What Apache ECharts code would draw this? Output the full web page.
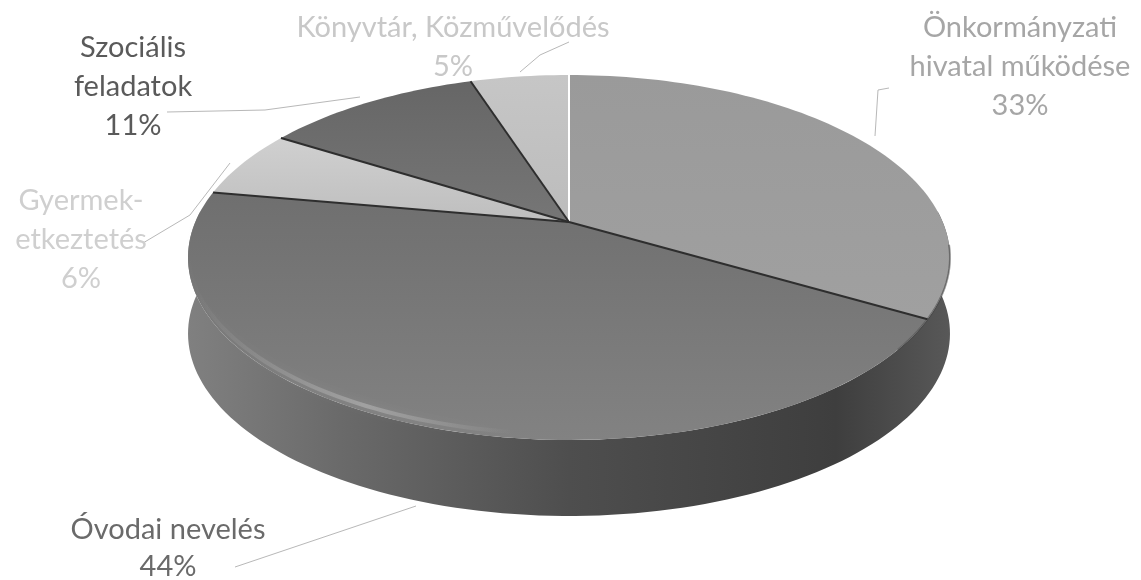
<!DOCTYPE html>
<html lang="hu">
<head>
    <meta charset="UTF-8">
    <title>Kiadások megoszlása</title>
    <style>
        html, body { margin: 0; padding: 0; background: #fff; }
        #main { width: 1141px; height: 580px; }
    </style>
</head>
<body>
<div id="main"></div>
<script src="https://cdn.jsdelivr.net/npm/echarts@6/dist/echarts.min.js"></script>
<script>
    // order is clockwise from 12 o'clock
    var categories = ['Önkormányzati\nhivatal működése', 'Óvodai nevelés', 'Gyermek-\netkeztetés', 'Szociális\nfeladatok', 'Könyvtár, Közművelődés'];
    var percents = [33, 44, 6, 11, 5];

    var sliceColors = [['#9a9a9a', '#a0a0a0'], ['#6f6f6f', '#828282'], ['#d0d0d0', '#bebebe'], ['#666666', '#767676'], ['#c6c6c6', '#bcbcbc']];
    var textColors = ['#a6a6a6', '#6a6a6a', '#cfcfcf', '#5a5a5a', '#c8c8c8'];
    var labelAnchors = [[1020, 8], [168, 511], [81, 181], [133, 28], [453, 8]];
    var leaders = [
        [[889, 88], [878, 90], [875, 136]],
        [[235, 567], [416, 506]],
        [[143, 243], [190, 215], [230, 163]],
        [[167, 112], [265, 110], [360, 97]],
        [[520, 72], [540, 55], [569, 42]]
    ];

    var total = percents.reduce(function (a, b) { return a + b; }, 0);
    var cum = [0];
    percents.forEach(function (p, i) { cum.push(cum[i] + p / total); });

    // tilted disc: a unit circle seen in perspective
    var CX = 569, CY = 222, AX = 373.7, EY = 132.4, H = -0.1945;
    function rim(share, r, dy) {
        var t = share * Math.PI * 2;
        var u = r * Math.sin(t), v = -r * Math.cos(t);
        var d = 1 + H * v;
        return [CX + AX * u / d, (CY + EY * v) / d + (dy || 0)];
    }
    function arc(from, to, dy) {
        var pts = [], n = Math.max(2, Math.ceil(Math.abs(to - from) * 240));
        for (var i = 0; i <= n; i++) pts.push(rim(from + (to - from) * i / n, 1, dy));
        return pts;
    }
    function bevel(from, to, dy, width, blur, stops) {
        return {
            type: 'polyline',
            shape: { points: arc(from, to, dy) },
            style: {
                fill: 'none',
                lineWidth: width,
                shadowBlur: blur,
                shadowColor: 'rgba(170,170,170,0.5)',
                stroke: new echarts.graphic.LinearGradient(0, 0, 1, 0, stops)
            }
        };
    }

    var DEPTH = 76;
    var myChart = echarts.init(document.getElementById('main'));
    myChart.setOption({
        backgroundColor: '#fff',
        animation: false,
        series: [
            {
                // side wall of the disc
                type: 'custom',
                coordinateSystem: 'none',
                silent: true,
                z: 1,
                data: [0],
                renderItem: function () {
                    var pts = arc(0.24, 0.76, 0).concat(arc(0.76, 0.24, DEPTH));
                    return {
                        type: 'polygon',
                        shape: { points: pts },
                        style: {
                            fill: new echarts.graphic.LinearGradient(0, 0, 1, 0, [
                                { offset: 0, color: '#808080' },
                                { offset: 0.2, color: '#6a6a6a' },
                                { offset: 0.5, color: '#4e4e4e' },
                                { offset: 0.85, color: '#3e3e3e' },
                                { offset: 1, color: '#585858' }
                            ])
                        }
                    };
                }
            },
            {
                // top face slices
                type: 'custom',
                coordinateSystem: 'none',
                silent: true,
                z: 2,
                data: percents,
                renderItem: function (params) {
                    var i = params.dataIndex;
                    var pts = [rim(0, 0)].concat(arc(cum[i], cum[i + 1]));
                    return {
                        type: 'polygon',
                        shape: { points: pts },
                        style: {
                            fill: new echarts.graphic.LinearGradient(0, 0, 0, 1, [
                                { offset: 0, color: sliceColors[i][0] },
                                { offset: 1, color: sliceColors[i][1] }
                            ])
                        }
                    };
                }
            },
            {
                // soft rim shading, light at the front left and dark on the right
                type: 'custom',
                coordinateSystem: 'none',
                silent: true,
                z: 3,
                data: [0],
                renderItem: function () {
                    return {
                        type: 'group',
                        children: [
                            bevel(0.52, 0.74, -6, 4, 8, [
                                { offset: 0, color: 'rgba(190,190,190,0)' },
                                { offset: 0.55, color: 'rgba(190,190,190,0.5)' },
                                { offset: 1, color: 'rgba(190,190,190,0)' }
                            ]),
                            bevel(0.27, 0.36, 0, 2, 0, [
                                { offset: 0, color: 'rgba(60,60,60,0.35)' },
                                { offset: 0.75, color: 'rgba(60,60,60,0.5)' },
                                { offset: 1, color: 'rgba(60,60,60,0.5)' }
                            ])
                        ]
                    };
                }
            },
            {
                // slice borders, the one at 12 o'clock is white
                type: 'custom',
                coordinateSystem: 'none',
                silent: true,
                z: 4,
                data: percents,
                renderItem: function (params) {
                    var i = params.dataIndex;
                    var end = rim(cum[i], 1);
                    return {
                        type: 'line',
                        shape: { x1: CX, y1: CY, x2: end[0], y2: end[1] },
                        style: { stroke: i === 0 ? '#fff' : '#2e2e2e', lineWidth: 2 }
                    };
                }
            },
            {
                // labels and leader lines
                type: 'custom',
                coordinateSystem: 'none',
                silent: true,
                z: 5,
                data: percents,
                renderItem: function (params) {
                    var i = params.dataIndex;
                    return {
                        type: 'group',
                        children: [
                            {
                                type: 'polyline',
                                shape: { points: leaders[i] },
                                style: { fill: 'none', stroke: '#b8b8b8', lineWidth: 1 }
                            },
                            {
                                type: 'text',
                                style: {
                                    x: labelAnchors[i][0],
                                    y: labelAnchors[i][1],
                                    text: categories[i] + '\n' + percents[i] + '%',
                                    fill: textColors[i],
                                    font: '29px Lato',
                                    align: 'center',
                                    verticalAlign: 'top',
                                    lineHeight: i === 1 ? 37 : 39
                                }
                            }
                        ]
                    };
                }
            }
        ]
    });
</script>
</body>
</html>
